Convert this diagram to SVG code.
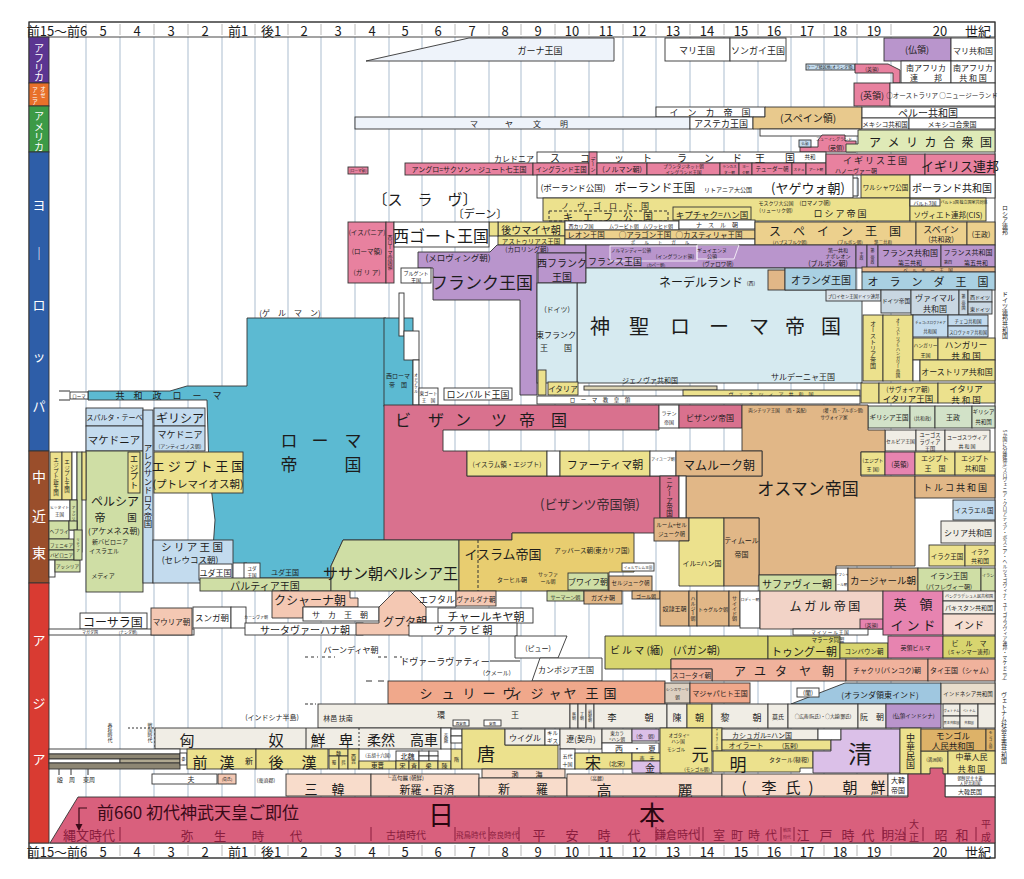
<svg xmlns="http://www.w3.org/2000/svg" width="1024" height="879" viewBox="0 0 1024 879">
<style>
text{font-family:"Noto Sans CJK JP","Noto Sans CJK SC",sans-serif;fill:#1c1c1c;text-anchor:middle;dominant-baseline:central}
.b{stroke:#333;stroke-width:0.9}
.v{writing-mode:vertical-rl}
.wt{fill:#fff}
.w{fill:#fff}
.tl{fill:#5cbad2}
.pk{fill:#d9718e}
.pu{fill:#b995cc}
.hb{fill:#d6eaf0}
.lb{fill:#c3dbee}
.ye{fill:#ece18d}
.gr{fill:#cfdea5}
.tn{fill:#e1b787}
.sa{fill:#f4c8b3}
.ls{fill:#f8dccb}
.or{fill:#f0a88b}
.cr{fill:#f0ede5}
.ol{fill:#d8d56f}
.lp{fill:#dbc0e8}
.ep{fill:#e8819f}
.mg{fill:#e784b0}
.gn{fill:#d2e2c8}
.sk{fill:#a9d0e2}
.gd{fill:#e8cd70}
.gh{fill:#eef3fa}
.grid{stroke:#c7d3e0;stroke-width:1.5;fill:none}
.era{fill:#8a1d3e}
.eral{stroke:#8a1d3e;stroke-width:1}
</style>
<rect width="1024" height="879" fill="#fff"/>
<g id="grid">
<path class="grid" d="M86 37V843M120 37V843M154 37V843M188 37V843M222 37V843M255 37V843M288 37V843M321 37V843M355 37V843M389 37V843M422 37V843M455 37V843M489 37V843M521 37V843M555 37V843M589 37V843M623 37V843M656 37V843M690 37V843M724 37V843M758 37V843M791 37V843M824 37V843M857 37V843M891 37V843"/>
</g>
<g id="axisTop">
<rect class="b w" x="29" y="22" width="966" height="15"/>
<path stroke="#b8b8b8" d="M86 24V35M120 24V35M154 24V35M188 24V35M222 24V35M255 24V35M288 24V35M321 24V35M355 24V35M389 24V35M422 24V35M455 24V35M489 24V35M521 24V35M555 24V35M589 24V35M623 24V35M656 24V35M690 24V35M724 24V35M758 24V35M791 24V35M824 24V35M857 24V35M891 24V35"/>
<text y="30" font-size="13"><tspan x="57">前15〜前6</tspan><tspan x="103">5</tspan><tspan x="137">4</tspan><tspan x="171">3</tspan><tspan x="205">2</tspan><tspan x="238">前1</tspan><tspan x="271">後1</tspan><tspan x="304">2</tspan><tspan x="338">3</tspan><tspan x="372">4</tspan><tspan x="405">5</tspan><tspan x="438">6</tspan><tspan x="472">7</tspan><tspan x="505">8</tspan><tspan x="538">9</tspan><tspan x="572">10</tspan><tspan x="606">11</tspan><tspan x="639">12</tspan><tspan x="673">13</tspan><tspan x="707">14</tspan><tspan x="741">15</tspan><tspan x="774">16</tspan><tspan x="807">17</tspan><tspan x="840">18</tspan><tspan x="874">19</tspan><tspan x="940">20</tspan><tspan x="978">世紀</tspan></text>
</g>
<use href="#axisTop" transform="translate(0,821)"/>
<rect x="29" y="22" width="966" height="836" fill="none" stroke="#333" stroke-width="1"/>

<g id="categories">
<rect class="b" x="29" y="37" width="20" height="46" fill="#5b3591"/>
<rect class="b" x="29" y="83" width="20" height="23" fill="#e8702a"/>
<rect class="b" x="29" y="106" width="20" height="46" fill="#3c9a46"/>
<rect class="b" x="29" y="152" width="20" height="299" fill="#2e5ea8"/>
<rect class="b" x="29" y="451" width="20" height="132" fill="#9a4e2b"/>
<rect class="b" x="29" y="583" width="20" height="260" fill="#d93b32"/>
<text class="wt" x="39 39 39 39" y="47 57 67 76" font-size="10">アフリカ</text>
<text class="wt" x="43 43" y="89 95" font-size="5.5">オセ</text>
<text class="wt" x="35 35 35" y="90 96 102" font-size="5.5">アニア</text>
<text class="wt" x="39 39 39 39" y="115 126 136 146" font-size="10">アメリカ</text>
<text class="wt" x="39 39 39 39 39" y="204 252 304 355 405" font-size="13">ヨ｜ロッパ</text>
<text class="wt" x="39 39 39" y="476 515 552" font-size="14">中近東</text>
<text class="wt" x="39 39 39" y="639 702 758" font-size="13">アジア</text>
</g>

<g id="africa">
<g id="ghana"><path class="b gh" d="M366 61L469 38H614V61Z"/><text x="540" y="50" font-size="9">ガーナ王国</text></g>
<g id="mali"><rect class="b w" x="665" y="38" width="65" height="23"/><text x="697" y="50" font-size="9">マリ王国</text></g>
<g id="songhai"><rect class="b w" x="730" y="38" width="56" height="23"/><text x="758" y="50" font-size="9">ソンガイ王国</text></g>
<g id="fr-africa"><rect class="b pu" x="884" y="38" width="67" height="23"/><text x="917" y="49" font-size="9">(仏領)</text></g>
<g id="mali-rep"><rect class="b w" x="951" y="38" width="44" height="23"/><text x="973" y="50" font-size="8">マリ共和国</text></g>
<g id="cape"><rect class="b lb" x="806" y="64" width="49" height="6"/><text x="830" y="67" font-size="4">ケープ植民地(オランダ領)</text></g>
<g id="uk-africa"><path class="b ep" d="M855 64H888L900 70V83H893V73H855Z"/><text x="872" y="68" font-size="5">(英領)</text></g>
<g id="sa-union"><rect class="b w" x="901" y="61" width="50" height="22"/><text x="926" y="67" font-size="8">南アフリカ</text><text x="926" y="77" font-size="8">連　　邦</text></g>
<g id="sa-rep"><rect class="b w" x="951" y="61" width="44" height="22"/><text x="973" y="67" font-size="8">南アフリカ</text><text x="973" y="77" font-size="8">共 和 国</text></g>
</g>

<g id="oceania">
<g id="uk-oce"><rect class="b ep" x="854" y="83" width="36" height="23"/><text x="872" y="95" font-size="9">(英領)</text></g>
<g id="aus"><rect class="b w" x="890" y="83" width="105" height="23"/><text x="942" y="95" font-size="6.5">○オーストラリア ○ニュージーランド</text></g>
</g>

<g id="america">
<g id="inca"><rect class="b w" x="656" y="107" width="109" height="10"/><text x="710" y="112" font-size="9">イ　ン　カ　帝　国</text></g>
<g id="maya"><rect class="b gh" x="355" y="117" width="335" height="12"/><text x="474 509 537 564" y="123 123 123 123" font-size="8">マヤ文明</text></g>
<g id="aztec"><rect class="b w" x="690" y="117" width="63" height="12"/><text x="721" y="123" font-size="9">アステカ王国</text></g>
<g id="sp-america"><path class="b" fill="#e8c98d" d="M765 107H862V129H753V117H765Z"/><text x="808" y="117" font-size="10">(スペイン領)</text></g>
<g id="peru"><rect class="b w" x="862" y="107" width="133" height="11"/><text x="928" y="112" font-size="10">ペルー共和国</text></g>
<g id="mex1"><rect class="b w" x="862" y="118" width="47" height="11"/><text x="885" y="124" font-size="6.5">メキシコ共和国</text></g>
<g id="mex2"><rect class="b w" x="909" y="118" width="86" height="11"/><text x="952" y="124" font-size="7">メキシコ合衆国</text></g>
<g id="sp-low"><rect class="b w" x="760" y="129" width="100" height="7"/></g>
<g id="uk-america"><path class="b ep" d="M822 135H845V141H856V152H800V147H818V140Z"/><text x="834" y="139" font-size="4">ニューイングランド</text><text x="836" y="147" font-size="6">(英領)</text><rect class="b lb" x="799" y="140" width="12" height="7"/><text x="805" y="143.5" font-size="3.5">仏領</text></g>
<g id="usa"><path class="b" fill="#dfeab7" d="M858 130H995V152H846V144H858Z"/><text x="875 893.5 912 930.5 949 967.5 986" y="141 141 141 141 141 141 141" font-size="12">アメリカ合衆国</text></g>
</g>

<g id="europe">
<text x="514" y="158" font-size="8">カレドニア</text>
<g id="scotland"><rect class="b w" x="537" y="152" width="289" height="11"/><text x="555 585 619 647 682 709 737 760 790" y="157 157 157 157 157 157 157 157 157" font-size="10">スコットランド王国</text><text x="810" y="157" font-size="5.5">共和</text></g>
<g id="romeprov"><rect class="b ep" x="348" y="167" width="20" height="7"/><text x="358" y="170.5" font-size="3.6">(ローマ領)</text></g>
<g id="england">
<rect class="b ep" x="405" y="163" width="128" height="12"/><text x="469" y="169" font-size="7">アングロ=サクソン・ジュート七王国</text>
<rect class="b ep" x="533" y="163" width="56" height="12"/><text x="561" y="169" font-size="6.4">イングランド王国</text>
<rect class="b ep" x="589" y="152" width="8" height="23"/><text class="v" x="593" y="164" font-size="5">デーン</text>
<rect class="b ep" x="597" y="163" width="50" height="12"/><text x="622" y="169" font-size="7">(ノルマン朝)</text>
<rect class="b ep" x="647" y="163" width="73" height="12"/><text x="683.5" y="166" font-size="4.5">プランタジネット朝</text><text x="683.5" y="172" font-size="4.5">イングランド王国</text>
<rect class="b ep" x="720" y="163" width="19" height="12"/><text x="729.5" y="166" font-size="3.6">ランカス</text><text x="729.5" y="172" font-size="3.6">ター朝</text>
<rect class="b ep" x="739" y="163" width="13" height="12"/><text x="745.5" y="166" font-size="3.6">ヨー</text><text x="745.5" y="172" font-size="3.6">ク朝</text>
<rect class="b ep" x="752" y="163" width="40" height="12"/><text x="772" y="169" font-size="5.5">テューダー朝</text>
<rect class="b ep" x="792" y="163" width="14" height="12"/><text x="799" y="169" font-size="3.6">ステュ</text>
<rect class="b ep" x="806" y="163" width="20" height="12"/><text x="816" y="169" font-size="3.6">アート朝</text>
</g>
<g id="uk"><rect class="b ep" x="826" y="154" width="99" height="21"/><text x="875" y="160" font-size="9">イ ギ リ ス 王 国</text><text x="856" y="170" font-size="6">ハノーヴァー朝</text></g>
<g id="commonwealth"><rect class="b ep" x="925" y="154" width="70" height="21"/><text x="960" y="165" font-size="13">イギリス連邦</text></g>
<g id="poland"><rect class="b w" x="537" y="175" width="316" height="23"/><text x="573" y="187" font-size="8.5">(ポーランド公国)</text><text x="655" y="187" font-size="11.5">ポーランド王国</text><text x="728" y="189" font-size="6">リトアニア大公国</text><text x="808" y="187" font-size="13">(ヤゲウォ朝)</text><path d="M853 178H858V196H853" fill="none" stroke="#333"/></g>
<g id="warsaw"><rect class="b ye" x="861" y="175" width="49" height="23"/><text x="885.5" y="187" font-size="6.5">ワルシャワ公国</text></g>
<g id="poland-rep"><rect class="b w" x="910" y="175" width="85" height="23"/><text x="952" y="187" font-size="10">ポーランド共和国</text></g>
<g id="russia"><rect class="b ye" x="543" y="198" width="367" height="23"/>
<text x="605" y="205" font-size="8">ノ　ヴ　ゴ　ロ　ド　国</text>
<rect x="549" y="211" width="119" height="10" fill="none" stroke="#333" stroke-dasharray="3 2"/><text x="608" y="216" font-size="10">キ　エ　フ　公　国</text>
<rect class="b ye" x="673" y="207" width="78" height="13"/><text x="712" y="213.5" font-size="8.5">キプチャク=ハン国</text>
<text x="776" y="202" font-size="5">モスクワ大公国</text><text x="776" y="209" font-size="5">(リューリク朝)</text>
<text x="815" y="203" font-size="5.5">(ロマノフ朝)</text><text x="840" y="213" font-size="9">ロ シ ア 帝 国</text></g>
<g id="soviet"><rect class="b ye" x="910" y="198" width="76" height="23"/><rect class="b w" x="910" y="199" width="30" height="7"/><text x="925" y="202.5" font-size="5">バルト3国</text><text x="964" y="202" font-size="4">バルト3国 独立国家共同体</text><text x="948" y="214" font-size="7.5">ソヴィエト連邦(CIS)</text></g>
<g id="umayyad"><rect class="b ye" x="498" y="222" width="67" height="14"/><text x="531" y="229" font-size="10">後ウマイヤ朝</text><rect class="b ye" x="498" y="236" width="67" height="9"/><text x="531" y="240.5" font-size="6.5">アストゥリアス王国</text><rect class="b ye" x="489" y="222" width="9" height="14"/></g>
<g id="iberia">
<rect class="b w" x="565" y="221" width="114" height="9"/><text x="581" y="225.5" font-size="5">西カリフ国</text><text x="624" y="225.5" font-size="5">ムラービト朝</text><text x="658" y="225.5" font-size="5">ムワッヒド朝</text>
<rect class="b w" x="679" y="220" width="76" height="9"/><text x="717" y="224.5" font-size="6">ナ　ス　ル　朝</text>
<rect class="b" fill="#ecd08d" x="565" y="230" width="190" height="9"/><text x="586" y="234.5" font-size="7.5">レオン王国</text><text x="645" y="234.5" font-size="7.5">○アラゴン王国</text><text x="709" y="234.5" font-size="7.5">○カスティリャ王国</text>
<rect class="b w" x="565" y="239" width="190" height="6"/><text x="660" y="242" font-size="4.5">ポ　　ル　　ト　　ガ　　ル</text>
</g>
<g id="spain"><rect class="b" fill="#ecd08d" x="755" y="222" width="161" height="23"/><text x="835" y="230" font-size="12">ス　ペ　イ　ン　王　国</text><text x="790" y="241.5" font-size="4.5">(ハプスブルク朝)</text><text x="850" y="241.5" font-size="4.5">(ブルボン朝)</text><text x="883" y="241.5" font-size="4.5">第二共和</text></g>
<g id="spain-rep"><rect class="b" fill="#ecd08d" x="916" y="222" width="51" height="23"/><text x="941" y="229" font-size="9">スペイン</text><text x="941" y="239" font-size="7">(共和政)</text></g>
<g id="spain-mon"><rect class="b" fill="#ecd08d" x="967" y="222" width="28" height="23"/><text x="981" y="234" font-size="7">(王政)</text></g>
<g id="romanprov"><rect class="b ep" x="348" y="222" width="38" height="61"/><text x="367" y="232" font-size="6.5">(イスパニア)</text><text x="367" y="251" font-size="6.5">(ローマ領)</text><text x="367" y="272" font-size="6.5">(ガ リ ア)</text><rect class="b ep" x="386" y="222" width="8" height="61"/><text class="v" x="390" y="252" font-size="5">西ローマ帝国領</text></g>
<text x="425" y="198" font-size="15">〔ス　ラ　ヴ〕</text>
<text x="480" y="213" font-size="11">〔デーン〕</text>
<g id="visigoth"><rect class="b w" x="394" y="222" width="95" height="25"/><text x="441" y="235" font-size="16">西ゴート王国</text></g>
<g id="frank"><path class="b pu" d="M418 252H490L497 245H586V253H537V395H520V300H433V268H418Z"/><text x="458" y="257" font-size="8.5">(メロヴィング朝)</text><text x="527" y="249" font-size="6.5">(カロリング朝)</text><text x="482" y="281" font-size="17">フランク王国</text></g>
<g id="burgund"><rect class="b w" x="401" y="268" width="30" height="15"/><text x="416" y="272" font-size="5">ブルグント</text><text x="416" y="279" font-size="5">王国</text></g>
<g id="wfrank"><rect class="b pu" x="538" y="253" width="48" height="30"/><text x="562" y="262" font-size="10">西フランク</text><text x="562" y="276" font-size="10">王国</text></g>
<g id="france"><rect class="b pu" x="586" y="245" width="270" height="23"/>
<rect x="610" y="246" width="87" height="15" fill="none" stroke="#fff" stroke-width="0.8"/><text x="631" y="249.5" font-size="4.5">ノルマンディー公領</text><text x="675" y="255" font-size="5">(イングランド領)</text>
<text x="615" y="261" font-size="9">フランス王国</text><text x="656" y="265" font-size="4">(カペー朝)</text>
<path d="M697 245H739L734 259H697Z" fill="none" stroke="#fff" stroke-width="0.8"/><text x="712" y="249" font-size="5">ギュイエンヌ</text><text x="712" y="255.5" font-size="5">公領</text><text x="718" y="264" font-size="5.5">(ヴァロワ朝)</text>
<text x="838" y="249" font-size="5">第一共和</text><text x="838" y="255" font-size="5">ナポレオン</text><text x="828" y="263" font-size="7">(ブルボン朝)</text></g>
<g id="fr-small"><rect class="b pu" x="856" y="245" width="11" height="23"/><text class="v" x="861.5" y="256" font-size="4">王政</text><rect class="b pu" x="867" y="245" width="11" height="23"/><text class="v" x="872.5" y="256" font-size="4">第二帝政</text></g>
<g id="fr-rep3"><rect class="b pu" x="878" y="245" width="63" height="22"/><text x="910" y="252" font-size="8">フランス共和国</text><text x="910" y="262" font-size="6">第三共和</text></g>
<g id="fr-rep5"><rect class="b pu" x="941" y="245" width="54" height="22"/><text x="968" y="252" font-size="7">フランス共和国</text><text x="948" y="262" font-size="4">第四</text><text x="976" y="262" font-size="6">第五共和</text></g>
<g id="belgium"><rect class="b" fill="#e6b78a" x="862" y="267" width="133" height="5"/><text x="928" y="269.5" font-size="4.5">ベ　ル　ギ　ー　王　国</text></g>
<g id="hre"><path class="b hb" d="M586 268H785V290H862V383H577V283H586Z"/><text x="600 639 680 719 759 795 831" y="325 325 325 325 325 325 325" font-size="20">神聖ローマ帝国</text><text x="701" y="281" font-size="12">ネーデルランド</text><text x="751" y="282" font-size="5">(西)</text><text x="803" y="376" font-size="8">サルデーニャ王国</text><text x="650" y="380" font-size="7">ジェノヴァ共和国</text></g>
<g id="nl-sp"><rect class="b tn" x="768" y="270" width="17" height="20"/></g>
<g id="dutch1"><rect class="b sk" x="785" y="268" width="71" height="22"/><text x="821" y="279" font-size="10">オランダ王国</text></g>
<g id="dutch2"><rect class="b sk" x="862" y="272" width="133" height="18"/><text x="928" y="281" font-size="11">オ　ラ　ン　ダ　王　国</text></g>
<g id="efrank"><rect class="b hb" x="537" y="283" width="40" height="100"/><text x="557" y="309" font-size="7">(ドイツ)</text><text x="556" y="334" font-size="8">東フランク</text><text x="556" y="347" font-size="8">王　　国</text></g>
<g id="italy"><rect class="b ye" x="538" y="370" width="8" height="25"/><rect class="b ye" x="548" y="382" width="30" height="13"/><text x="563" y="388.5" font-size="7.5">イタリア</text></g>
<g id="genoa"><rect class="b" fill="#dcd4b4" x="584" y="386" width="133" height="4"/><rect class="b ye" x="683" y="390" width="177" height="6"/><text x="771" y="393" font-size="5">ヴ　ェ　ネ　ツ　ィ　ア　共　和　国</text></g>
<g id="papal"><rect class="b w" x="537" y="396" width="323" height="8"/><text x="600" y="400" font-size="5.5">ロ　ー　マ　教　皇　領</text></g>
<g id="germany">
<rect class="b" fill="#d9e2ea" x="826" y="290" width="55" height="11"/><text x="853.5" y="295.5" font-size="4.3">プロイセン王国ドイツ連邦</text>
<rect class="b" fill="#c9d7e2" x="881" y="290" width="30" height="23"/><text x="896" y="301" font-size="5.6">ドイツ帝国</text>
<rect class="b" fill="#c9d7e2" x="911" y="290" width="48" height="25"/><text x="935" y="297" font-size="8">ヴァイマル</text><text x="935" y="308" font-size="8">共和国</text>
<rect class="b" fill="#c9d7e2" x="959" y="290" width="9" height="25"/><text class="v" x="963.5" y="302" font-size="4">第三帝国</text>
<rect class="b" fill="#c9d7e2" x="968" y="290" width="24" height="12"/><text x="980" y="296" font-size="5">西ドイツ</text>
<rect class="b" fill="#c9d7e2" x="968" y="302" width="24" height="12"/><text x="980" y="308" font-size="5">東ドイツ</text>
</g>
<g id="austria">
<rect class="b ye" x="863" y="315" width="20" height="66"/><text class="v" x="873" y="345" font-size="6">オーストリア帝国</text>
<rect class="b ye" x="883" y="315" width="30" height="66"/><text class="v" x="898" y="348" font-size="4.4">オーストリア=ハンガリー帝国</text>
<rect class="b lb" x="913" y="315" width="35" height="22"/><text x="930.5" y="322" font-size="3.2">チェコ=スロヴァキア</text><text x="930" y="331" font-size="4.5">共和国</text>
<rect class="b lb" x="948" y="315" width="40" height="11"/><text x="968" y="320.5" font-size="4.5">チェコ共和国</text>
<rect class="b lb" x="948" y="326" width="40" height="11"/><text x="968" y="331.5" font-size="4.2">スロヴァキア共和国</text>
<rect class="b ye" x="913" y="338" width="25" height="22"/><text x="925.5" y="344" font-size="4.8">ハンガリー</text><text x="925.5" y="354" font-size="5">王国</text>
<rect class="b ye" x="938" y="338" width="57" height="22"/><text x="966" y="344" font-size="8.5">ハンガリー</text><text x="966" y="355" font-size="8.5">共 和 国</text>
<rect class="b w" x="913" y="360" width="7" height="21"/>
<rect class="b ye" x="920" y="360" width="75" height="21"/><text x="957" y="371" font-size="8">オーストリア共和国</text>
</g>
<g id="it-kingdom"><rect class="b ye" x="861" y="383" width="18" height="20"/><rect class="b ye" x="879" y="383" width="59" height="20"/><text x="908" y="389" font-size="6.5">(サヴォイア朝)</text><text x="908" y="398" font-size="8.5">イタリア王国</text></g>
<g id="it-rep"><rect class="b ye" x="938" y="383" width="57" height="20"/><text x="966" y="388" font-size="8.5">イタリア</text><text x="966" y="398.5" font-size="8.5">共 和 国</text></g>
<g id="greece2"><rect class="b gn" x="868" y="406" width="42" height="22"/><text x="889" y="417" font-size="6.5">ギリシア王国</text><rect class="b gn" x="910" y="406" width="25" height="22"/><text x="922.5" y="417" font-size="4.8">(共和政)</text><rect class="b gn" x="935" y="406" width="37" height="22"/><text x="953" y="417" font-size="7">王政</text><rect class="b gn" x="972" y="406" width="23" height="22"/><text x="983.5" y="412" font-size="5.5">ギリシア</text><text x="983.5" y="422" font-size="5.5">共和国</text></g>
<g id="yugo"><rect class="b cr" x="885" y="430" width="31" height="21"/><text x="900.5" y="440" font-size="4.8">セルビア王国</text><rect class="b cr" x="916" y="430" width="29" height="21"/><text x="930" y="434" font-size="5.2">ユーゴス</text><text x="930" y="441" font-size="5.2">ラヴィア</text><text x="930" y="448" font-size="5.2">王国</text><rect class="b cr" x="945" y="430" width="45" height="21"/><text x="967" y="436" font-size="5">ユーゴスラヴィア</text><text x="967" y="445" font-size="5">共 和 国</text></g>
<text x="290" y="312" font-size="8">(ゲ　ル　マ　ン)</text>
</g>

<g id="rome">
<path class="b tl" d="M88 391H170L187 386H247V318H386V540H343L331 566V578H247V563H212L215 520L209 470L207 400H88Z"/>
<rect class="b w" x="70" y="392" width="18" height="7"/><text x="79" y="395.5" font-size="4.5">ローマ</text>
<line x1="59" y1="391" x2="70" y2="391" stroke="#333"/><line x1="59" y1="400" x2="70" y2="400" stroke="#333"/>
<text x="120 138 157" y="395.5 395.5 395.5" font-size="9">共和政</text>
<text x="177 197 217" y="395.5 395.5 395.5" font-size="9">ローマ</text>
<text x="289 320 353" y="439 439 439" font-size="17">ローマ</text>
<text x="289" y="463" font-size="17">帝</text>
<text x="353" y="463" font-size="17">国</text>
<text x="285" y="572" font-size="7">ユダ王国</text>
</g>
<g id="wrome"><rect class="b tl" x="384" y="318" width="29" height="88"/><text x="398" y="375" font-size="6">西ローマ</text><text x="398" y="384" font-size="6">帝　国</text></g>
<g id="germanic"><rect class="b w" x="399" y="293" width="5" height="43"/><rect class="b w" x="404" y="331" width="15" height="29"/><rect class="b w" x="413" y="360" width="6" height="45"/><text class="v" x="416" y="383" font-size="4">オドアケル</text><rect class="b w" x="419" y="388" width="19" height="17"/><text x="428.5" y="393" font-size="4.5">東ゴート</text><text x="428.5" y="400" font-size="4.5">王　国</text><rect class="b w" x="444" y="388" width="68" height="12"/><text x="478" y="394" font-size="9">ロンバルド王国</text></g>

<g id="byzantine"><path class="b pk" d="M384 405H659V430H443V451H467V476H660V533H512V540H384Z"/><text x="403 436 463 499 527 559" y="419 419 419 419 419 419" font-size="16">ビザンツ帝国</text><text x="590" y="503" font-size="13" style="fill:#3a2a30">(ビザンツ帝国領)</text></g>
<g id="latin"><rect class="b w" x="659" y="405" width="20" height="23"/><text x="669" y="412" font-size="5">ラテン</text><text x="669" y="421" font-size="5">帝国</text></g>
<g id="byz2"><rect class="b pk" x="679" y="405" width="63" height="23"/><text x="710" y="417" font-size="8">ビザンツ帝国</text></g>
<g id="ottoman"><path class="b tn" d="M742 405H868V430H885V452H861V476H915V566H836V575H759V518H686V476H762V451H742Z"/><text x="808" y="487" font-size="17">オスマン帝国</text><text x="764" y="410" font-size="4.5">両シチリア王国</text><text x="796" y="410" font-size="4.5">(西・英配)</text><text x="843" y="410" font-size="4.2">(墺・西・ブルボン朝)</text><text x="834" y="417" font-size="4.5">サヴォイア家</text></g>
<g id="islam-egypt"><rect class="b ye" x="467" y="451" width="80" height="25"/><text x="507" y="464" font-size="6.5">(イスラム領・エジプト)</text><rect class="b w" x="547" y="451" width="13" height="25"/></g>
<g id="fatimid"><rect class="b ye" x="560" y="451" width="90" height="25"/><text x="605" y="464" font-size="11">ファーティマ朝</text></g>
<g id="ayyubid"><rect class="b w" x="650" y="451" width="26" height="25"/><text x="663" y="459" font-size="4">アイユーブ朝</text></g>
<g id="mamluk"><rect class="b tn" x="676" y="451" width="86" height="25"/><text x="719" y="464" font-size="12">マムルーク朝</text></g>
<g id="nicaea"><rect class="b pk" x="660" y="476" width="19" height="42"/><text class="v" x="669.5" y="497" font-size="6.5">ニケーア帝国</text><rect class="b w" x="679" y="476" width="7" height="42"/></g>

<g id="middleeast">
<g id="sparta"><rect class="b lb" x="86" y="408" width="57" height="18"/><text x="114.5" y="417" font-size="7">スパルタ・テーベ</text></g>
<g id="greece"><rect class="b lb" x="154" y="408" width="51" height="18"/><text x="180" y="417" font-size="12">ギリシア</text></g>
<g id="macedon"><rect class="b lb" x="86" y="426" width="57" height="25"/><text x="114" y="439" font-size="10.5">マケドニア</text></g>
<g id="antigonid"><rect class="b lb" x="154" y="426" width="51" height="25"/><text x="180" y="434" font-size="9">マケドニア</text><text x="180" y="445" font-size="5">(アンティゴノス朝)</text></g>
<g id="persia"><rect class="b gr" x="86" y="451" width="57" height="141"/><text x="115" y="500" font-size="12">ペルシア</text><text x="100" y="517" font-size="11">帝</text><text x="132" y="517" font-size="9.5">国</text><text x="114" y="530" font-size="7.8">(アケメネス朝)</text><text x="110" y="541" font-size="6">新バビロニア</text><text x="104" y="550" font-size="6">イスラエル</text><text x="103" y="575" font-size="6">メディア</text></g>
<g id="egypt-v"><rect class="b ye" x="128" y="452" width="12" height="41"/><text class="v" x="134" y="472" font-size="8.5">エジプト</text></g>
<g id="alexander"><rect class="b lb" x="143" y="410" width="10" height="173"/><text class="v" x="148" y="486" font-size="8.5">アレクサンドロス帝国</text></g>
<g id="ptolemy"><rect class="b ye" x="154" y="452" width="89" height="41"/><text x="198" y="465" font-size="13">エ ジ プ ト 王 国</text><text x="198" y="483" font-size="10.5">(プトレマイオス朝)</text></g>
<g id="seleucid"><rect class="b lb" x="153" y="540" width="80" height="43"/><text x="192" y="546" font-size="10.5">シ リ ア 王 国</text><text x="190" y="559" font-size="8.5">(セレウコス朝)</text></g>
<g id="judah"><rect class="b w" x="199" y="564" width="33" height="16"/><text x="215.5" y="572" font-size="8">ユダ王国</text><rect class="b w" x="244" y="563" width="16" height="17"/><text x="252" y="568" font-size="4.5">ユダ</text><text x="252" y="575" font-size="4.5">王国</text></g>
<g id="ancient">
<rect class="b ye" x="50" y="452" width="12" height="48"/><text class="v" x="56" y="476" font-size="5.5">エジプト新王国</text>
<rect class="b ye" x="62" y="452" width="10" height="48"/><text class="v" x="67" y="476" font-size="5.5">エジプト王国</text>
<rect class="b w" x="72" y="452" width="5" height="48"/>
<rect class="b gr" x="77" y="452" width="5" height="100"/>
<rect class="b ye" x="82" y="452" width="4" height="48"/>
<rect class="b w" x="49" y="500" width="21" height="21"/><text x="59.5" y="507" font-size="3.8">ヒッタイト</text><text x="59.5" y="514" font-size="4.5">王国</text>
<rect class="b gr" x="70" y="500" width="7" height="30"/><text class="v" x="73.5" y="515" font-size="3.5">アッシリア</text>
<rect class="b gr" x="49" y="521" width="20" height="18"/><text x="59" y="530" font-size="4.8">ヘブライ</text>
<rect class="b gr" x="69" y="521" width="8" height="9"/>
<rect class="b gr" x="49" y="539" width="25" height="11"/><text x="61.5" y="544.5" font-size="4.6">フェニキア</text>
<rect class="b gr" x="49" y="550" width="25" height="10"/><text x="61.5" y="555" font-size="4.6">バビロニア</text>
<rect class="b w" x="49" y="560" width="6" height="17"/>
<rect class="b gr" x="55" y="560" width="25" height="12"/><text x="67.5" y="566" font-size="4.6">アッシリア</text>
<rect class="b gr" x="74" y="530" width="8" height="30"/><text class="v" x="78" y="545" font-size="3.5">リディア</text>
</g>
<g id="parthia"><rect class="b gr" x="200" y="578" width="131" height="13"/><text x="265" y="585" font-size="10">パルティア王国</text></g>
<g id="sassanid"><path class="b gr" d="M343 540H459V591H331V566Z"/><text x="398" y="572" font-size="15">ササン朝ペルシア王国</text></g>
<g id="islam"><path class="b gd" d="M459 540H512V533H634V572H609V591H459Z"/><line x1="478" y1="540" x2="478" y2="591" stroke="#333" stroke-dasharray="3 2"/><text x="503" y="553" font-size="13">イスラム帝国</text><text x="592" y="550" font-size="6.5">アッバース朝(東カリフ国)</text><text x="512" y="579" font-size="6">ターヒル朝</text><text x="548" y="573" font-size="5">サッファ</text><text x="548" y="580" font-size="5">ール朝</text></g>
<g id="buyid"><rect class="b gr" x="568" y="573" width="40" height="17"/><text x="588" y="581.5" font-size="8">ブワイフ朝</text></g>
<g id="seljuk"><rect class="b tn" x="609" y="576" width="43" height="15"/><text x="630.5" y="583" font-size="5.5">セルジューク朝</text></g>
<g id="jerusalem"><rect class="b w" x="622" y="563" width="32" height="8"/><text x="638" y="567" font-size="3.6">イェルサレム王国</text></g>
<g id="rum"><rect class="b tn" x="654" y="518" width="35" height="23"/><text x="671.5" y="525" font-size="5.5">ルーム=セル</text><text x="671.5" y="534" font-size="5.5">ジューク朝</text></g>
<g id="ilkhan"><path class="b ye" d="M689 518H724V586H679V541H689Z"/><text x="702" y="563" font-size="7">イル=ハン国</text></g>
<g id="timur"><rect class="b tn" x="724" y="518" width="35" height="68"/><text x="741.5" y="540" font-size="7">ティムール</text><text x="741.5" y="554" font-size="7">帝国</text></g>
<g id="safavid"><rect class="b gr" x="759" y="575" width="77" height="17"/><text x="797" y="583.5" font-size="10">サファヴィー朝</text></g>
<g id="afshar"><rect class="b w" x="836" y="568" width="12" height="24"/><text x="842" y="574" font-size="3.5">アフシャ</text><text x="842" y="584" font-size="3.5">ール朝</text></g>
<g id="qajar"><rect class="b tn" x="848" y="568" width="70" height="24"/><text x="883" y="580" font-size="9.5">カージャール朝</text></g>
<g id="iran"><rect class="b gr" x="918" y="568" width="63" height="24"/><text x="949" y="575" font-size="7.5">イラン王国</text><text x="949" y="586" font-size="6">(パフレヴィー朝)</text><rect class="b gr" x="981" y="568" width="14" height="24"/><text x="988" y="575" font-size="4">イラン</text></g>
<g id="egypt-mod"><rect class="b ye" x="861" y="452" width="24" height="23"/><text x="873" y="459" font-size="4.8">(エジプト</text><text x="873" y="468" font-size="5">王 国)</text><rect class="b mg" x="885" y="452" width="30" height="23"/><text x="900" y="463.5" font-size="6.5">(英領)</text><rect class="b ye" x="915" y="452" width="40" height="23"/><text x="935" y="458" font-size="7">エジプト</text><text x="935" y="468" font-size="7">王　国</text><rect class="b ye" x="955" y="452" width="40" height="23"/><text x="975" y="458" font-size="7">エジプト</text><text x="975" y="468" font-size="7">共和国</text></g>
<g id="turkey"><rect class="b tn" x="915" y="476" width="80" height="22"/><text x="955" y="487" font-size="9">ト ル コ 共 和 国</text></g>
<g id="israel"><rect class="b lb" x="953" y="500" width="42" height="20"/><text x="974" y="510" font-size="6.5">イスラエル国</text></g>
<g id="syria"><rect class="b cr" x="941" y="521" width="54" height="22"/><text x="968" y="532" font-size="8">シリア共和国</text></g>
<g id="iraq"><rect class="b ye" x="929" y="545" width="36" height="21"/><text x="947" y="555.5" font-size="6.5">イラク王国</text><rect class="b ye" x="965" y="545" width="30" height="21"/><text x="980" y="551" font-size="6">イラク</text><text x="980" y="560" font-size="6">共和国</text></g>
</g>

<g id="india">
<g id="kosala"><rect class="b w" x="80" y="613" width="67" height="16"/><text x="113" y="621" font-size="12">コーサラ国</text><rect class="b w" x="49" y="629" width="145" height="6"/><text x="90" y="632" font-size="4">マガダ国</text><text x="128" y="632" font-size="4">(ナンダ朝)</text></g>
<g id="maurya"><rect class="b sa" x="151" y="608" width="41" height="27"/><text x="171.5" y="621" font-size="7.5">マウリア朝</text></g>
<g id="sunga"><rect class="b w" x="193" y="607" width="38" height="21"/><text x="212" y="617" font-size="8.5">スンガ朝</text><rect class="b w" x="231" y="607" width="15" height="21"/></g>
<g id="kushan"><path class="b sa" d="M272 591H350V598H358V607H303V618H272Z"/><text x="310" y="599" font-size="12">クシャーナ朝</text></g>
<g id="saka"><rect class="b w" x="303" y="607" width="76" height="14"/><text x="340" y="614" font-size="8">サ　カ　王　朝</text></g>
<g id="satavahana"><rect class="b w" x="245" y="623" width="118" height="12"/><text x="305" y="629" font-size="10">サータヴァーハナ朝</text><text x="256" y="617" font-size="4">カーンヴァ朝</text></g>
<g id="gupta"><path class="b sa" d="M379 607L395 591H410L426 607V635H356V623H379Z"/><text x="405" y="621" font-size="11">グプタ朝</text></g>
<g id="hephthal"><path class="b w" d="M410 591H456V607H426Z"/><text x="437" y="599" font-size="9">エフタル</text></g>
<g id="vardhana"><rect class="b sa" x="456" y="591" width="40" height="15"/><text x="476" y="598.5" font-size="6.5">ヴァルダナ朝</text></g>
<g id="chalukya"><rect class="b w" x="438" y="608" width="95" height="15"/><text x="486" y="615.5" font-size="11">チャールキヤ朝</text></g>
<g id="valabhi"><rect class="b w" x="409" y="623" width="108" height="13"/><text x="463" y="629.5" font-size="10">ヴ ァ ラ ビ 朝</text></g>
<g id="samanid"><rect class="b gr" x="547" y="591" width="37" height="10"/><text x="565.5" y="596" font-size="5">サーマーン朝</text></g>
<g id="ghazna"><rect class="b tn" x="584" y="591" width="38" height="13"/><text x="603" y="597.5" font-size="6">ガズナ朝</text></g>
<g id="ghor"><rect class="b tn" x="632" y="591" width="28" height="8"/><text x="646" y="595" font-size="5">ゴール朝</text></g>
<g id="delhi"><rect class="b tn" x="660" y="591" width="29" height="35"/><text x="674.5" y="608" font-size="6">奴隷王朝</text><rect class="b tn" x="689" y="591" width="8" height="35"/><text class="v" x="693" y="608" font-size="5">ハルジー朝</text><rect class="b tn" x="697" y="591" width="32" height="35"/><text x="713" y="608" font-size="5">トゥグルク朝</text><rect class="b tn" x="729" y="591" width="11" height="35"/><text class="v" x="734.5" y="608" font-size="5">サイイド朝</text><rect class="b w" x="740" y="591" width="20" height="37"/><text x="750" y="599" font-size="3.8">ロディー朝</text></g>
<g id="mughal"><rect class="b" fill="#f2d3c7" x="760" y="591" width="123" height="38"/><text x="825" y="605" font-size="12">ム ガ ル 帝 国</text><rect class="b mg" x="860" y="619" width="23" height="10"/><text x="871.5" y="624" font-size="5">(英領)</text></g>
<g id="mysore"><rect class="b w" x="793" y="629" width="75" height="6"/><text x="830" y="632" font-size="4.5">マ イ ソ ー ル 王 国</text></g>
<g id="brindia"><rect class="b mg" x="883" y="591" width="60" height="44"/><text x="913" y="603" font-size="13">英　領</text><text x="913" y="624" font-size="13">イ ン ド</text></g>
<g id="southasia"><rect class="b cr" x="943" y="591" width="52" height="10"/><text x="969" y="596" font-size="4">バングラデシュ人民共和国</text><rect class="b cr" x="943" y="601" width="52" height="13"/><text x="969" y="607.5" font-size="6">パキスタン共和国</text><rect class="b" fill="#f6ddd0" x="943" y="614" width="52" height="21"/><text x="969" y="624.5" font-size="10">インド</text></g>
<text x="351" y="649" font-size="8">バーンディヤ朝</text>
<path d="M305 657H318M322 657H335M378 657H390M394 657H402" stroke="#333" stroke-dasharray="3 3"/>
<text x="445" y="661" font-size="9">ドヴァーラヴァティー</text>
<line x1="490" y1="661" x2="520" y2="661" stroke="#333"/>
<text x="497" y="672" font-size="6">(クメール)</text>
</g>

<g id="seasia">
<g id="pyu"><path class="b w" d="M515 636H567L558 658H515Z"/><text x="538" y="648" font-size="7">(ピュー)</text></g>
<g id="cambodia"><path class="b w" d="M540 658H602V681H532Z"/><text x="566" y="669.5" font-size="8">カンボジア王国</text></g>
<g id="burma"><path class="b ol" d="M605 636H768V659H671V669H605Z"/><text x="665" y="649" font-size="10">ビ ル マ (緬)　(パガン朝)</text></g>
<g id="toungoo"><rect class="b ol" x="768" y="636" width="72" height="23"/><text x="804" y="651" font-size="11">トゥングー朝</text><text x="828" y="640" font-size="5.5">マラータ同盟</text></g>
<g id="konbaung"><rect class="b ol" x="840" y="643" width="48" height="15"/><text x="864" y="651" font-size="6.5">コンバウン朝</text></g>
<g id="brburma"><rect class="b mg" x="888" y="636" width="55" height="22"/><text x="915.5" y="647" font-size="6">英領ビルマ</text></g>
<g id="myanmar"><rect class="b ol" x="943" y="636" width="52" height="22"/><text x="969" y="643" font-size="7">ビ　ル　マ</text><text x="969" y="652" font-size="5.5">(ミャンマー連邦)</text></g>
<g id="ayutthaya"><path class="b" fill="#f0b29c" d="M671 659H846V681H712V669H671Z"/><text x="740 760 781 805 828" y="670 670 670 670 670" font-size="12">アユタヤ朝</text></g>
<g id="sukhothai"><rect class="b" fill="#f0b29c" x="671" y="669" width="41" height="12"/><text x="691.5" y="675" font-size="6.5">スコータイ朝</text></g>
<g id="chakri"><rect class="b" fill="#f0b29c" x="846" y="659" width="82" height="22"/><text x="887" y="670" font-size="7">チャクリ(バンコク)朝</text></g>
<g id="thai"><rect class="b" fill="#f0b29c" x="928" y="659" width="67" height="22"/><text x="961.5" y="670" font-size="7">タイ王国（シャム）</text></g>
<g id="srivijaya"><rect class="b or" x="388" y="681" width="277" height="23"/><path d="M366 681H372M378 681H384" stroke="#333"/><text x="426 448 469 489 509 517 537 555 570 592 610" y="692 692 692 692 692 692 692 692 692 692 692" font-size="13">シュリーヴィジャヤ王国</text></g>
<g id="singhasari"><rect class="b" fill="#dccfc0" x="665" y="683" width="25" height="20"/><text x="677.5" y="689" font-size="3.8">シンガサーリ</text><text x="677.5" y="697" font-size="4.5">朝</text></g>
<g id="majapahit"><rect class="b or" x="690" y="683" width="60" height="20"/><text x="720" y="693" font-size="7">マジャパヒト王国</text></g>
<g id="dutchindies"><path class="b" fill="#9fc7e0" d="M791 704L845 683H941V704Z"/><rect class="b w" x="797" y="688" width="22" height="9"/><text x="808" y="692.5" font-size="6">(蘭)</text><text x="880" y="694" font-size="8">(オランダ領東インド)</text></g>
<g id="indonesia"><rect class="b" fill="#e8dccb" x="941" y="683" width="54" height="21"/><text x="968" y="693.5" font-size="5.5">インドネシア共和国</text></g>
<text x="272" y="717" font-size="7">(インドシナ半島)</text>
<g id="champa"><rect class="b cr" x="318" y="704" width="252" height="24"/><path d="M305 704H316" stroke="#333" stroke-dasharray="3 2"/><text x="338" y="718" font-size="7">林邑 扶南</text><text x="441" y="714" font-size="8">環</text><text x="515" y="714" font-size="8">王</text><rect class="b w" x="453" y="720" width="16" height="6"/><text x="461" y="723" font-size="3.5">西安南</text><rect class="b w" x="484" y="720" width="17" height="6"/><text x="492.5" y="723" font-size="3.5">安南</text></g>
<g id="vietnam">
<rect class="b cr" x="570" y="704" width="8" height="24"/><text class="v" x="574" y="716" font-size="4">呉朝</text>
<rect class="b cr" x="578" y="704" width="8" height="24"/><text class="v" x="582" y="716" font-size="4">丁朝</text>
<rect class="b cr" x="586" y="704" width="8" height="24"/><text class="v" x="590" y="716" font-size="4">前黎朝</text>
<rect class="b cr" x="594" y="704" width="73" height="24"/><text x="612 649" y="717 717" font-size="9">李朝</text>
<rect class="b cr" x="667" y="704" width="20" height="24"/><text x="677" y="717" font-size="9">陳</text>
<rect class="b ye" x="687" y="704" width="25" height="24"/><text x="699.5" y="717" font-size="9">朝</text>
<rect class="b cr" x="712" y="704" width="56" height="24"/><text x="725 757" y="717 717" font-size="9">黎朝</text>
<rect class="b cr" x="768" y="704" width="20" height="24"/><text x="778" y="716" font-size="6">莫氏</text>
<rect class="b cr" x="788" y="704" width="70" height="24"/><text x="823" y="716" font-size="4.6">○広南(阮氏)・○大越(鄭氏)</text>
<rect class="b cr" x="858" y="704" width="28" height="24"/><text x="872" y="716" font-size="8">阮　朝</text>
<rect class="b pu" x="886" y="704" width="55" height="24"/><text x="913.5" y="716" font-size="5.5">(仏領インドシナ)</text>
<rect class="b cr" x="943" y="704" width="17" height="12"/><rect class="b cr" x="943" y="716" width="17" height="12"/><rect class="b cr" x="960" y="704" width="18" height="12"/><rect class="b cr" x="960" y="716" width="18" height="12"/>
<text x="951.5" y="710" font-size="3.2">ヴェトナム</text><text x="951.5" y="722" font-size="3.2">民主共和国</text><text x="969" y="710" font-size="3.2">ベトナム</text><text x="969" y="722" font-size="3.2">共和国</text>
<rect class="b cr" x="978" y="704" width="17" height="24"/>
</g>
</g>

<g id="china">
<text class="v" x="110" y="733" font-size="5">春秋時代</text>
<text class="v" x="150" y="733" font-size="5">戦国時代</text>
<path d="M128 728H155V749" fill="none" stroke="#333" stroke-dasharray="2 2"/>
<g id="nomads"><rect class="b cr" x="155" y="728" width="286" height="21"/><line x1="306" y1="728" x2="306" y2="749" stroke="#333"/><line x1="359" y1="728" x2="359" y2="749" stroke="#333" stroke-dasharray="2 2"/><text x="187 276" y="739 739" font-size="15">匈奴</text><text x="318 346" y="739 739" font-size="15">鮮卑</text><text x="381" y="739" font-size="14">柔然</text><text x="424" y="739" font-size="14">高車</text></g>
<g id="turk"><rect class="b w" x="441" y="728" width="10" height="21"/><text class="v" x="446" y="738" font-size="4.5">突厥</text><rect class="b w" x="451" y="729" width="11" height="7"/><rect class="b w" x="451" y="736" width="11" height="7"/></g>
<g id="shangzhou"><rect class="b w" x="49" y="749" width="131" height="5"/><rect class="b" fill="#8d8673" x="49" y="754" width="131" height="5"/><rect class="b w" x="49" y="759" width="71" height="4"/><rect class="b" fill="#b0a890" x="120" y="759" width="60" height="4"/><rect class="b" fill="#8d8673" x="49" y="763" width="131" height="6"/><rect class="b w" x="180" y="753" width="7" height="12"/><text x="183.5" y="759" font-size="4">秦</text><path d="M59 769V775M71 769V775M88 769V775" stroke="#333"/><text x="60" y="779" font-size="6">殷</text><text x="72" y="779" font-size="6">周</text><text x="89" y="779" font-size="6">東周</text></g>
<g id="han1"><rect class="b ye" x="187" y="749" width="69" height="20"/><text x="200 227" y="761 761" font-size="15">前漢</text><text x="249" y="760" font-size="8">新</text></g>
<g id="han2"><rect class="b ye" x="256" y="749" width="72" height="20"/><text x="276 309" y="761 761" font-size="15">後漢</text></g>
<g id="three"><rect class="b ye" x="329" y="749" width="19" height="7"/><text x="338.5" y="752.5" font-size="5">魏</text><rect class="b ye" x="329" y="756" width="10" height="13"/><text x="334" y="762" font-size="4.5">蜀</text><rect class="b ye" x="339" y="756" width="9" height="13"/><text x="343.5" y="762" font-size="4.5">呉</text><rect class="b ye" x="348" y="749" width="11" height="20"/><text class="v" x="353.5" y="759" font-size="5">西晋</text></g>
<text x="378" y="755" font-size="4.5">(五胡十六国)</text>
<g id="jin"><rect class="b ye" x="359" y="761" width="37" height="8"/><text x="377.5" y="765" font-size="6.5">東晋</text></g>
<g id="north"><rect class="b w" x="396" y="751" width="23" height="10"/><text x="407.5" y="756" font-size="7">北魏</text><rect class="b w" x="419" y="751" width="10" height="5"/><rect class="b w" x="419" y="756" width="10" height="5"/><rect class="b w" x="429" y="751" width="9" height="5"/><rect class="b w" x="429" y="756" width="9" height="5"/></g>
<g id="south"><rect class="b ye" x="396" y="761" width="13" height="8"/><text x="402.5" y="765" font-size="6">宋</text><rect class="b ye" x="409" y="761" width="10" height="8"/><text x="414" y="765" font-size="6">斉</text><rect class="b ye" x="419" y="761" width="19" height="8"/><text x="428.5" y="765" font-size="6">梁</text><rect class="b ye" x="438" y="761" width="13" height="8"/><text x="444.5" y="765" font-size="6">陳</text></g>
<g id="sui"><rect class="b ye" x="451" y="749" width="11" height="20"/><text class="v" x="456.5" y="759" font-size="5">隋</text></g>
<g id="tang"><path class="b ye" d="M462 729H505V745H558V769H462Z"/><text x="486" y="753" font-size="18">唐</text></g>
<g id="uighur"><rect class="b cr" x="505" y="729" width="40" height="16"/><text x="525" y="737" font-size="8">ウイグル</text><rect class="b w" x="545" y="729" width="15" height="16"/><text x="552.5" y="733" font-size="5.5">キル</text><text x="552.5" y="741" font-size="5.5">ギス</text></g>
<g id="liao"><rect class="b cr" x="560" y="729" width="42" height="20"/><text x="581" y="738" font-size="8">遼(契丹)</text></g>
<g id="karakhan"><rect class="b cr" x="602" y="729" width="30" height="14"/><text x="617" y="733" font-size="4.5">東カラ</text><text x="617" y="739" font-size="4.5">=ハン朝</text></g>
<g id="jin-a"><rect class="b lp" x="632" y="729" width="27" height="12"/><text x="645.5" y="735" font-size="5">(金　朝)</text></g>
<g id="xixia"><rect class="b w" x="602" y="743" width="57" height="10"/><text x="619 637 652" y="748.5 748.5 748.5" font-size="8">西・夏</text></g>
<g id="fived"><rect class="b w" x="560" y="749" width="15" height="20"/><text x="567.5" y="755" font-size="5">五代</text><text x="567.5" y="763" font-size="5">十国</text></g>
<g id="song"><rect class="b ye" x="575" y="753" width="57" height="16"/><text x="593" y="762" font-size="16">宋</text><text x="617" y="763" font-size="6">(北宋)</text><rect class="b ye" x="632" y="753" width="30" height="8"/><text x="647" y="757" font-size="5">南　宋</text></g>
<g id="jin-b"><path class="b lp" d="M632 761H669V769H662V773H632Z"/><text x="650" y="767" font-size="10">金</text></g>
<g id="yuan"><rect class="b ye" x="660" y="728" width="52" height="45"/><text x="700" y="753" font-size="17">元</text><text x="679" y="735" font-size="4.5">オゴタイ=</text><text x="678" y="741" font-size="4.5">ハン国</text><text x="676" y="749" font-size="4.5">モンゴル</text><text x="697" y="769" font-size="4.5">(モンゴル朝)</text></g>
<g id="chagatai"><rect class="b ye" x="712" y="728" width="10" height="23"/><text class="v" x="717" y="739.5" font-size="2.4">チャガタイ=ハン国</text></g>
<g id="kashgar"><rect class="b cr" x="722" y="729" width="96" height="11"/><text x="762" y="734.5" font-size="7">カシュガル=ハン国</text><rect class="b w" x="818" y="729" width="23" height="11"/></g>
<g id="oirat"><rect class="b ye" x="722" y="740" width="109" height="10"/><text x="746" y="745" font-size="7">オイラート</text><text x="790" y="745" font-size="6">(瓦剌)</text></g>
<g id="ming"><path class="b ye" d="M713 751H813V768H800V772H713Z"/><text x="738" y="763" font-size="17">明</text><text x="789" y="759" font-size="6">タタール(韃靼)</text></g>
<g id="qing"><path class="b lp" d="M841 729H900V773H813V751H831V740H841Z"/><text x="860" y="752" font-size="24">清</text></g>
<g id="roc"><rect class="b ye" x="900" y="728" width="21" height="46"/><text class="v" x="910.5" y="751" font-size="9">中華民国</text><rect class="b ye" x="921" y="751" width="27" height="23"/><text x="934.5" y="759" font-size="4.5">(満洲国)</text></g>
<g id="mongolia"><rect class="b" fill="#ddb268" x="921" y="729" width="65" height="22"/><text x="953" y="735" font-size="8.5">モンゴル</text><text x="953" y="745" font-size="8.5">人民共和国</text><rect class="b" fill="#ddb268" x="986" y="729" width="9" height="22"/><text class="v" x="990.5" y="740" font-size="3.5">モンゴル国</text></g>
<g id="prc"><rect class="b ye" x="948" y="751" width="47" height="23"/><text x="971.5" y="756.5" font-size="8">中華人民</text><text x="971.5" y="768.5" font-size="8">共 和 国</text></g>
</g>

<g id="korea">
<g id="buyeo"><rect class="b w" x="152" y="774" width="65" height="10"/><text x="191" y="779" font-size="7">夫</text><rect class="b sa" x="218" y="774" width="18" height="10"/><text x="227" y="779" font-size="4">(衛氏)</text><text x="266" y="779" font-size="5">(楽浪郡)</text></g>
<g id="samhan"><rect class="b ls" x="286" y="774" width="85" height="22"/><text x="311 338" y="788 788" font-size="13">三韓</text></g>
<g id="silla-baekje"><rect class="b ls" x="371" y="774" width="108" height="22"/><text x="405" y="778" font-size="5.5">└高句麗 (朝鮮)</text><text x="427" y="789" font-size="11">新羅・百済</text></g>
<g id="balhae"><rect class="b ls" x="482" y="769" width="83" height="9"/><text x="515 539" y="773.5 773.5" font-size="7">渤海</text></g>
<g id="silla"><rect class="b ls" x="479" y="778" width="88" height="18"/><text x="504 542" y="788 788" font-size="12">新羅</text></g>
<g id="goryeo"><rect class="b ls" x="567" y="774" width="155" height="22"/><text x="597" y="777" font-size="5">(高麗)</text><text x="604" y="789" font-size="15">高</text><text x="685" y="789" font-size="15">麗</text></g>
<g id="joseon"><rect class="b ls" x="722" y="774" width="166" height="22"/><text x="744 769 793 811 850 878" y="786 786 786 786 786 786" font-size="15">(李氏)朝鮮</text></g>
<g id="korean-empire"><rect class="b w" x="888" y="774" width="20" height="22"/><text x="898" y="780" font-size="7">大韓</text><text x="898" y="790" font-size="7">帝国</text></g>
<g id="dprk"><rect class="b w" x="945" y="774" width="50" height="12"/><text x="970" y="777.5" font-size="4.2">朝鮮民主主義</text><text x="970" y="782.5" font-size="4.2">人民共和国</text><rect class="b w" x="945" y="786" width="50" height="11"/><text x="970" y="791.5" font-size="6">大韓民国</text></g>
</g>

<g id="japan">
<path class="b" fill="#d9607d" d="M78 797H908V774H930V768H943V774H945V797H995V843H50Z"/>
<path d="M87 808H79V825" fill="none" stroke="#3a0a18" stroke-width="1.2"/><path d="M75.5 824L79 831L82.5 824Z" fill="#3a0a18"/>
<text x="97" y="811" font-size="17" style="text-anchor:start;fill:#3a0a18">前660  初代神武天皇ご即位</text>
<text x="441" y="813" font-size="26" style="fill:#2a0610">日</text>
<text x="652" y="813" font-size="26" style="fill:#2a0610">本</text>
<g>
<text class="era" x="89" y="834" font-size="13">縄文時代</text>
<text class="era" x="187 220 258 296" y="835 835 835 835" font-size="12.5">弥生時代</text>
<text class="era" x="406" y="834" font-size="10">古墳時代</text>
<text class="era" x="471" y="834" font-size="7.5">飛鳥時代</text>
<text class="era" x="504" y="834" font-size="7.5">奈良時代</text>
<text class="era" x="539 572 604 634" y="834 834 834 834" font-size="13">平安時代</text>
<text class="era" x="677" y="834" font-size="11">鎌倉時代</text>
<text class="era" x="719 737 754 771" y="834 834 834 834" font-size="12">室町時代</text>
<text class="era" x="787" y="830" font-size="4">戦国</text><text class="era" x="787" y="837" font-size="4">時代</text>
<text class="era" x="803 826 848 868" y="834 834 834 834" font-size="13">江戸時代</text>
<text class="era" x="894" y="834" font-size="12">明治</text>
<text class="era" x="914" y="823" font-size="10">大</text><text class="era" x="914" y="836" font-size="10">正</text>
<text class="era" x="941 962" y="834 834" font-size="13">昭和</text>
<text class="era" x="986" y="823" font-size="10">平</text><text class="era" x="986" y="836" font-size="10">成</text>
</g>
<path class="eral" d="M120 827V841M371 827V841M455 827V841M489 827V841M519 827V841M656 827V841M699 827V841M703 827V841M781 827V841M794 827V841M883 827V841M905 827V841M923 827V841M976 827V841"/>
</g>

<g id="side-notes">
<text class="v" x="1005" y="220" font-size="6">ロシア連邦</text>
<text class="v" x="1005" y="315" font-size="6">ドイツ連邦共和国</text>
<text class="v" x="1005" y="555" font-size="4.8">5か国に分離独立(スロヴェニア・クロアティア・ボスニア・ヘルツェゴヴィナ・ユーゴスラヴィア連邦・マケドニア)</text>
<text class="v" x="1004" y="728" font-size="6">ヴェトナム社会主義共和国</text>
</g>
</svg>
